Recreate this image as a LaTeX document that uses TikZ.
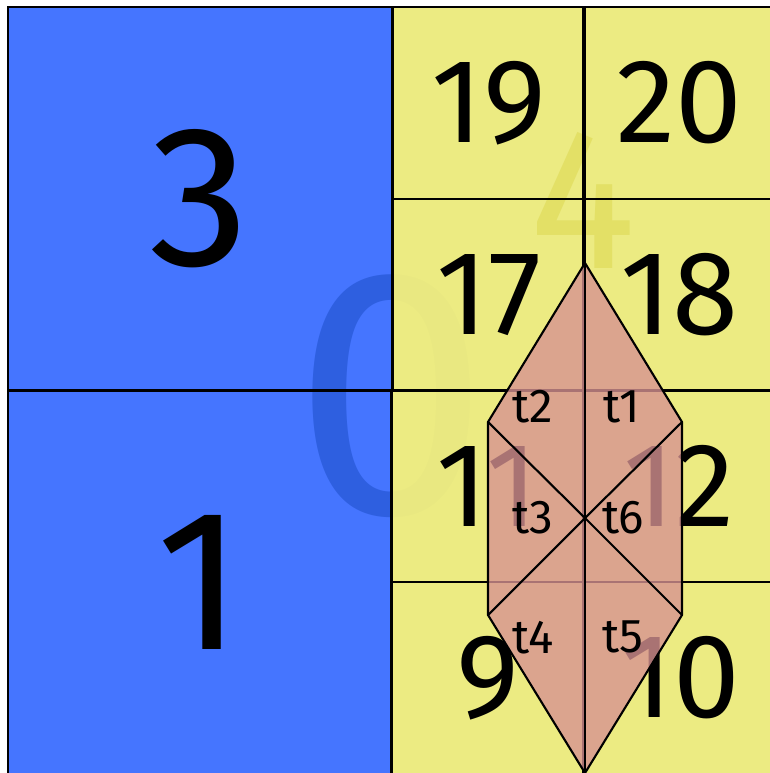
\documentclass[tikz,border=0pt]{standalone}
\usepackage{fontspec}
\setmainfont{Fira Sans}
\pgfdeclarelayer{bgblue}
\pgfdeclarelayer{faintroot}
\pgfdeclarelayer{bgyellow}
\pgfdeclarelayer{faintquad}
\pgfsetlayers{bgblue,faintroot,bgyellow,faintquad,main}
\definecolor{qblue}{RGB}{69,117,255}
\definecolor{cyel}{RGB}{236,235,128}
\definecolor{dblue}{RGB}{46,95,224}
\definecolor{dyel}{RGB}{227,224,102}
\definecolor{hexpink}{RGB}{215,146,146}
\begin{document}
\begin{tikzpicture}[x=0.01cm,y=-0.01cm,
  edge/.style={draw=black,line width=0.6pt},
  quadbox/.style={edge,minimum width=3.835cm,minimum height=3.835cm,inner sep=0pt,font=\fontsize{57}{57}\selectfont},
  cellbox/.style={edge,minimum width=1.9175cm,minimum height=1.9175cm,inner sep=0pt,font=\fontsize{34}{34}\selectfont},
  tri/.style={draw=black,line width=0.6pt,line join=miter},
  trilabel/.style={inner sep=0pt,font=\fontsize{13.5}{13.5}\selectfont}]
\useasboundingbox (0,0) rectangle (769,773);
% quadrants
\node[quadbox] (q3) at (199.75,198.75) {3};
\node[quadbox] (q1) at (199.75,582.25) {1};
% cells
\node[cellbox] (c19) at (489,102.9) {19};
\node[cellbox] (c20) at (679.1,102.9) {20};
\node[cellbox] (c17) at (489,294.6) {17};
\node[cellbox] (c18) at (679.1,294.6) {18};
\node[cellbox] (c11) at (487.4,486.4) {11};
\node[cellbox] (c12) at (679.1,486.4) {12};
\node[cellbox] (c9)  at (487.4,678.1) {9};
\node[cellbox] (c10) at (681,678.1) {10};
% fills
\begin{pgfonlayer}{bgblue}
  \foreach \n in {q3,q1}
    \fill[qblue] (\n.north west) rectangle (\n.south east);
\end{pgfonlayer}
\begin{pgfonlayer}{faintroot}
  \node[inner sep=0pt,text=dblue,font=\fontsize{100}{100}\selectfont] (l0) at (392,396) {0};
\end{pgfonlayer}
\begin{pgfonlayer}{bgyellow}
  \foreach \n in {c19,c20,c17,c18,c11,c12,c9,c10}
    \fill[cyel,fill opacity=0.985] (\n.north west) rectangle (\n.south east);
\end{pgfonlayer}
\begin{pgfonlayer}{faintquad}
  \node[inner sep=0pt,text=dyel,font=\fontsize{57}{57}\selectfont] (l4) at (583,200) {4};
\end{pgfonlayer}
% hexagon of triangles
\coordinate (T)  at (585,263);
\coordinate (RT) at (682,422);
\coordinate (RB) at (682,615);
\coordinate (B)  at (585,773);
\coordinate (LB) at (488,615);
\coordinate (LT) at (488,422);
\coordinate (C)  at (585,518);
\fill[hexpink,fill opacity=0.79] (T) -- (RT) -- (RB) -- (B) -- (LB) -- (LT) -- cycle;
\draw[tri] (T) -- (RT) -- (RB) -- (B) -- (LB) -- (LT) -- cycle;
\draw[tri] (T) -- (C) -- (B);
\draw[tri] (LT) -- (C) -- (RB);
\draw[tri] (RT) -- (C) -- (LB);
\node[trilabel] (t1) at (622,407) {t1};
\node[trilabel] (t2) at (533,407) {t2};
\node[trilabel] (t3) at (533,518) {t3};
\node[trilabel] (t6) at (623,518) {t6};
\node[trilabel] (t4) at (533,638) {t4};
\node[trilabel] (t5) at (623,637) {t5};
\end{tikzpicture}
\end{document}
